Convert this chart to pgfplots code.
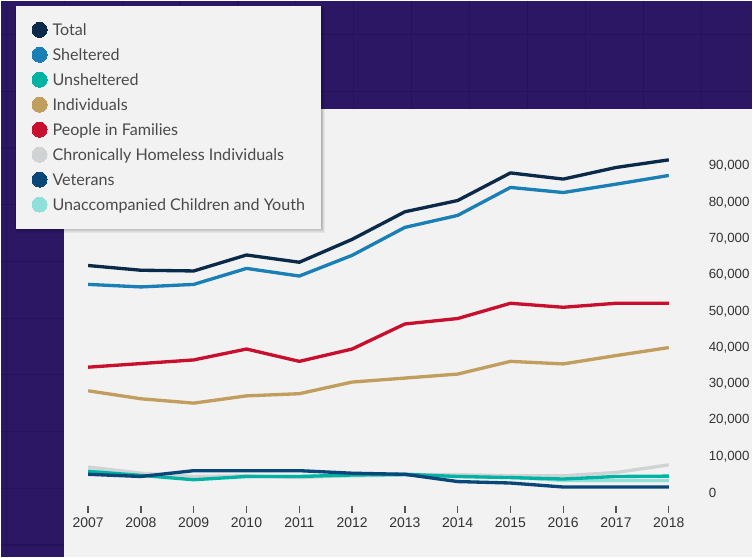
\documentclass[border=0pt]{standalone}
\usepackage{fontspec}
\setmainfont{Lato}
\newfontfamily\tickfont{Liberation Sans}
\usepackage{pgfplots}
\pgfplotsset{compat=1.18}
\definecolor{cBg}{HTML}{2C1764}
\definecolor{cGrid}{HTML}{251259}
\definecolor{cPanel}{HTML}{F2F2F2}
\definecolor{cTotal}{HTML}{0B2A4A}
\definecolor{cShel}{HTML}{1A7FB5}
\definecolor{cUnsh}{HTML}{00B2A4}
\definecolor{cInd}{HTML}{C29E5E}
\definecolor{cFam}{HTML}{C8102E}
\definecolor{cChron}{HTML}{D0D3D4}
\definecolor{cVet}{HTML}{0A4677}
\definecolor{cUnacc}{HTML}{90E0DA}
\definecolor{cLegText}{HTML}{4A4A4A}
\definecolor{cTickText}{HTML}{333333}
\definecolor{cTick}{HTML}{555555}
\begin{document}
\begin{tikzpicture}[x=0.75pt,y=-0.75pt]
\fill[cBg] (0,0) rectangle (753,557);
\foreach \x in {5.7,63.7,...,750} \draw[cGrid,line width=0.9pt] (\x,0) -- (\x,557);
\foreach \y in {34,90.8,...,557} \draw[cGrid,line width=0.9pt] (0,\y) -- (753,\y);
\fill[cPanel] (64,108.5) rectangle (753,557);
% soft shadow of the legend box
\foreach \d in {1,...,6} \fill[black,opacity=0.05] (14+0.3*\d,6) rectangle (321+0.6*\d,227+\d);
\begin{axis}[
  at={(65.775pt,-384.75pt)}, anchor=south west,
  scale only axis, width=436.2pt, height=274.125pt,
  xmin=2007, xmax=2018, ymin=-5500, ymax=95000,
  axis x line*=bottom, axis y line*=right,
  axis line style={draw=none},
  xtick={2007,...,2018},
  ytick={0,10000,...,90000},
  scaled y ticks=false,
  tick align=inside,
  major tick length=5.25pt,
  xtick style={draw=cTick, line width=1pt},
  ytick style={draw=none},
  /pgf/number format/assume math mode=true,
  xticklabel style={font=\tickfont\fontsize{10.5}{12}\selectfont, text=cTickText, anchor=north, inner sep=0pt, yshift=-3.75pt, /pgf/number format/1000 sep={}},
  yticklabel style={font=\tickfont\fontsize{10}{12}\selectfont, text=cTickText, anchor=west, inner sep=0pt, xshift=29.8pt},
  legend cell align=left,
  legend image code/.code={\fill[#1, line width=0pt] (0pt,0pt) circle (5.625pt);},
  legend style={at={(-0.125,1.3899)}, anchor=north west,
    draw=none, fill=cPanel,
    inner xsep=12.2pt, inner ysep=12.4pt,
    row sep=7.5pt,
    nodes={inner sep=0pt, text depth=0pt},
    font=\fontsize{12.1}{14}\selectfont, text=cLegText,
    /tikz/every odd column/.append style={column sep=4.1pt}},
  line join=round,
  every axis plot/.append style={line width=2.5pt},
]
\addlegendimage{color=cTotal}\addlegendentry{Total}
\addlegendimage{color=cShel}\addlegendentry{Sheltered}
\addlegendimage{color=cUnsh}\addlegendentry{Unsheltered}
\addlegendimage{color=cInd}\addlegendentry{Individuals}
\addlegendimage{color=cFam}\addlegendentry{People in Families}
\addlegendimage{color=cChron}\addlegendentry{Chronically Homeless Individuals}
\addlegendimage{color=cVet}\addlegendentry{Veterans}
\addlegendimage{color=cUnacc}\addlegendentry{Unaccompanied Children and Youth}
% Unaccompanied Children and Youth
\addplot[cUnacc, forget plot] coordinates {(2007,6000)(2008,5200)(2009,4200)(2010,4500)(2011,4500)(2012,4700)(2013,4900)(2014,4500)(2015,4300)(2016,3400)(2017,3400)(2018,3400)};
% Chronically Homeless Individuals
\addplot[cChron, forget plot] coordinates {(2007,7100)(2008,5400)(2009,4500)(2010,4700)(2011,4200)(2012,4800)(2013,5100)(2014,5000)(2015,4700)(2016,4700)(2017,5600)(2018,7700)};
% Unsheltered
\addplot[cUnsh, forget plot] coordinates {(2007,5900)(2008,4800)(2009,3600)(2010,4500)(2011,4500)(2012,4900)(2013,5100)(2014,4500)(2015,4200)(2016,3800)(2017,4500)(2018,4600)};
% Veterans
\addplot[cVet, forget plot] coordinates {(2007,5100)(2008,4500)(2009,6100)(2010,6100)(2011,6100)(2012,5400)(2013,5100)(2014,3100)(2015,2700)(2016,1600)(2017,1600)(2018,1600)};
% Individuals
\addplot[cInd, forget plot] coordinates {(2007,28100)(2008,25900)(2009,24700)(2010,26700)(2011,27300)(2012,30500)(2013,31600)(2014,32700)(2015,36200)(2016,35500)(2017,37800)(2018,40000)};
% People in Families
\addplot[cFam, forget plot] coordinates {(2007,34600)(2008,35600)(2009,36600)(2010,39600)(2011,36200)(2012,39600)(2013,46500)(2014,48000)(2015,52200)(2016,51100)(2017,52200)(2018,52200)};
% Sheltered
\addplot[cShel, forget plot] coordinates {(2007,57400)(2008,56700)(2009,57400)(2010,61800)(2011,59700)(2012,65400)(2013,73100)(2014,76400)(2015,84100)(2016,82700)(2017,85000)(2018,87400)};
% Total
\addplot[cTotal, forget plot] coordinates {(2007,62600)(2008,61300)(2009,61100)(2010,65500)(2011,63500)(2012,69800)(2013,77400)(2014,80500)(2015,88100)(2016,86400)(2017,89600)(2018,91700)};
\end{axis}
\end{tikzpicture}
\end{document}
